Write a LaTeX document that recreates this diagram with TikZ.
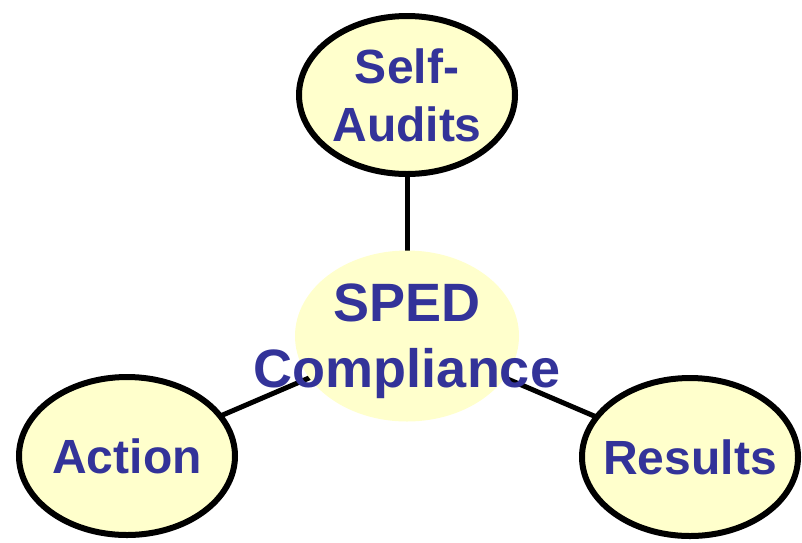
\documentclass[tikz,border=0pt]{standalone}
\usepackage{fontspec}
\setmainfont{Liberation Sans}
\usetikzlibrary{shapes.geometric,backgrounds}
\definecolor{textblue}{HTML}{333399}
\definecolor{paleyellow}{HTML}{FFFFCC}

\tikzset{
  bubble/.style={ellipse,draw=black,line width=6pt,fill=paleyellow,
    minimum width=216pt,minimum height=158pt,inner xsep=-60pt,inner ysep=-40pt,
    text=textblue,align=center,font=\fontsize{48}{58}\selectfont\bfseries},
  hub/.style={ellipse,fill=paleyellow,minimum width=224pt,minimum height=171pt,
    inner xsep=-100pt,inner ysep=-50pt,text depth=0pt,
    text=textblue,align=center,font=\fontsize{54}{66}\selectfont\bfseries},
  link/.style={line width=5pt}
}

\begin{document}
\begin{tikzpicture}[x=1pt,y=-1pt]
\useasboundingbox (0,0) rectangle (802,542);

\node[hub] (0) at (407,336) {SPED\\Compliance};

\node[bubble] (1) at (407,95) {Self-\\Audits};

\node[bubble] (2) at (127,456) {Action};

\node[bubble] (3) at (690,457) {Results};

\begin{scope}[on background layer]
\draw[link] (1.center) -- (0.center) ;
\draw[link] (2.center) -- (0.center) ;
\draw[link] (3.center) -- (0.center) ;
\end{scope}
\end{tikzpicture}
\end{document}
